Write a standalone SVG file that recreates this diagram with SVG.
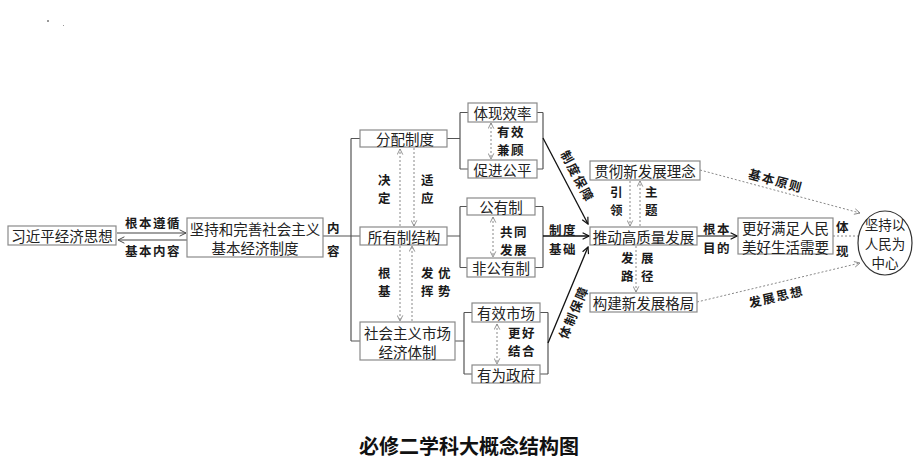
<svg xmlns="http://www.w3.org/2000/svg" width="920" height="473" viewBox="0 0 920 473">
<style>
.box{fill:#fff;stroke:#8a8a8a;stroke-width:1.2}
.t{font-family:"Noto Sans CJK SC","Noto Sans",sans-serif;font-size:14.5px;fill:#222;text-anchor:middle;dominant-baseline:central}
.c{font-size:13.5px}
.l{font-family:"Noto Sans CJK SC","Noto Sans",sans-serif;font-size:12.5px;font-weight:bold;fill:#1a1a1a;text-anchor:middle;dominant-baseline:central;letter-spacing:1.5px}
.br{fill:none;stroke:#555;stroke-width:1.2}
.sol{fill:none;stroke:#111;stroke-width:1.3}
.dot{fill:none;stroke:#888;stroke-width:1;stroke-dasharray:2 2}
</style>
<defs>
<marker id="ah" viewBox="0 0 10 10" refX="9" refY="5" markerWidth="8" markerHeight="8" orient="auto-start-reverse" markerUnits="userSpaceOnUse">
<path d="M1,1 L9,5 L1,9" fill="none" stroke="#111" stroke-width="1.5"/>
</marker>
<marker id="ad" viewBox="0 0 10 10" refX="9" refY="5" markerWidth="7" markerHeight="7" orient="auto-start-reverse" markerUnits="userSpaceOnUse">
<path d="M1,1 L9,5 L1,9" fill="none" stroke="#888" stroke-width="1.3"/>
</marker>
<marker id="at" viewBox="0 0 10 10" refX="9" refY="5" markerWidth="8" markerHeight="8" orient="auto-start-reverse" markerUnits="userSpaceOnUse">
<path d="M1,1 L9,5 L1,9" fill="none" stroke="#444" stroke-width="1.2"/>
</marker>
</defs>
<rect width="920" height="473" fill="#fff"/>
<rect x="47" y="20" width="2" height="2" fill="#999"/>
<rect x="63" y="25" width="1" height="1" fill="#999"/>

<g id="connectors">
<line class="br" x1="117" y1="233" x2="186" y2="233" marker-end="url(#at)" style="stroke:#444"/>
<line class="br" x1="187" y1="240" x2="118" y2="240" marker-end="url(#at)" style="stroke:#444"/>
<path class="br" d="M323,236 H360 M351,138.5 V341 M351,138.5 H360 M351,341 H360"/>
<path class="br" d="M447,138.5 H460 M460,112.5 V169 M460,112.5 H468 M460,169 H468 M537,112.5 H543 M537,169 H543 M543,112.5 V169"/>
<path class="br" d="M447,236 H460 M460,206.5 V267.5 M460,206.5 H467 M460,267.5 H467 M535,206.5 H543 M535,267.5 H543 M543,206.5 V267.5"/>
<path class="br" d="M455,341 H464 M464,312.5 V374 M464,312.5 H472 M464,374 H472 M540,312.5 H548 M540,374 H548 M548,312.5 V374"/>
<line class="sol" x1="543" y1="138" x2="588" y2="224" marker-end="url(#ah)"/>
<line class="sol" x1="543" y1="236" x2="589" y2="236" marker-end="url(#ah)"/>
<line class="sol" x1="548" y1="343" x2="588" y2="247" marker-end="url(#ah)"/>
<line class="sol" x1="697" y1="236" x2="737" y2="236" marker-end="url(#ah)" style="stroke-width:1.1"/>
<line class="dot" x1="400" y1="226" x2="400" y2="149" marker-end="url(#ad)"/>
<line class="dot" x1="414" y1="148" x2="414" y2="226" marker-end="url(#ad)"/>
<line class="dot" x1="400" y1="246" x2="400" y2="321" marker-end="url(#ad)"/>
<line class="dot" x1="412" y1="321" x2="412" y2="246" marker-end="url(#ad)"/>
<line class="dot" x1="491" y1="123" x2="491" y2="159" marker-start="url(#ad)" marker-end="url(#ad)"/>
<line class="dot" x1="493" y1="217" x2="493" y2="257" marker-start="url(#ad)" marker-end="url(#ad)"/>
<line class="dot" x1="497" y1="324" x2="497" y2="364" marker-start="url(#ad)" marker-end="url(#ad)"/>
<line class="dot" x1="630" y1="181" x2="630" y2="226" marker-end="url(#ad)"/>
<line class="dot" x1="640" y1="226" x2="640" y2="181" marker-end="url(#ad)"/>
<line class="dot" x1="636" y1="246" x2="636" y2="292" marker-end="url(#ad)"/>
<line class="dot" x1="700" y1="170" x2="860" y2="213" marker-end="url(#ad)"/>
<line class="dot" x1="697" y1="302" x2="860" y2="263" marker-end="url(#ad)"/>
<line class="dot" x1="833" y1="236" x2="858" y2="236"/>
</g>

<g id="labels">
<text class="l" x="153" y="222">根本遵循</text>
<text class="l" x="153" y="250">基本内容</text>
<text class="l"><tspan x="334" y="227">内</tspan><tspan x="334" y="250">容</tspan></text>
<text class="l"><tspan x="385" y="179">决</tspan><tspan x="385" y="197">定</tspan></text>
<text class="l"><tspan x="428" y="179">适</tspan><tspan x="428" y="197">应</tspan></text>
<text class="l"><tspan x="385" y="272">根</tspan><tspan x="385" y="290">基</tspan></text>
<text class="l"><tspan x="428" y="272">发</tspan><tspan x="428" y="290">挥</tspan></text>
<text class="l"><tspan x="445" y="272">优</tspan><tspan x="445" y="290">势</tspan></text>
<text class="l"><tspan x="511" y="131">有效</tspan><tspan x="511" y="149">兼顾</tspan></text>
<text class="l"><tspan x="514" y="231">共同</tspan><tspan x="514" y="249">发展</tspan></text>
<text class="l"><tspan x="522" y="332">更好</tspan><tspan x="522" y="350">结合</tspan></text>
<text class="l"><tspan x="563" y="228.5">制度</tspan><tspan x="563" y="248">基础</tspan></text>
<text class="l" transform="translate(578,176) rotate(62)">制度保障</text>
<text class="l" transform="translate(573,312) rotate(-67)">体制保障</text>
<text class="l"><tspan x="617" y="191">引</tspan><tspan x="617" y="209">领</tspan></text>
<text class="l"><tspan x="652" y="191">主</tspan><tspan x="652" y="209">题</tspan></text>
<text class="l"><tspan x="628" y="257">发</tspan><tspan x="628" y="275">路</tspan></text>
<text class="l"><tspan x="648" y="257">展</tspan><tspan x="648" y="275">径</tspan></text>
<text class="l"><tspan x="717" y="227.5">根本</tspan><tspan x="717" y="247">目的</tspan></text>
<text class="l"><tspan x="843" y="226">体</tspan><tspan x="843" y="250">现</tspan></text>
<text class="l" transform="translate(776,180) rotate(15)">基本原则</text>
<text class="l" transform="translate(776,296) rotate(-13)">发展思想</text>
</g>

<g id="n1"><rect class="box" x="8" y="226" width="108" height="19"/><text class="t" x="62" y="235.5">习近平经济思想</text></g>
<g id="n2"><rect class="box" x="187" y="218" width="136" height="39"/><text class="t"><tspan x="255" y="228">坚持和完善社会主义</tspan><tspan x="255" y="247">基本经济制度</tspan></text></g>
<g id="n3"><rect class="box" x="360" y="130" width="87" height="17"/><text class="t" x="405" y="138.5">分配制度</text></g>
<g id="n4"><rect class="box" x="360" y="227" width="87" height="18"/><text class="t" x="404" y="236">所有制结构</text></g>
<g id="n5"><rect class="box" x="360" y="322" width="95" height="38"/><text class="t"><tspan x="407.5" y="332">社会主义市场</tspan><tspan x="407.5" y="351">经济体制</tspan></text></g>
<g id="n6"><rect class="box" x="468" y="103" width="69" height="19"/><text class="t" x="502.5" y="112.5">体现效率</text></g>
<g id="n7"><rect class="box" x="468" y="160" width="69" height="18"/><text class="t" x="502.5" y="169">促进公平</text></g>
<g id="n8"><rect class="box" x="467" y="198" width="68" height="17"/><text class="t" x="501" y="206.5">公有制</text></g>
<g id="n9"><rect class="box" x="467" y="258" width="68" height="19"/><text class="t" x="501" y="267.5">非公有制</text></g>
<g id="n10"><rect class="box" x="472" y="303" width="68" height="19"/><text class="t" x="506" y="312.5">有效市场</text></g>
<g id="n11"><rect class="box" x="472" y="365" width="68" height="18"/><text class="t" x="506" y="374">有为政府</text></g>
<g id="n12"><rect class="box" x="590" y="161" width="110" height="19"/><text class="t" x="645" y="170.5">贯彻新发展理念</text></g>
<g id="n13"><rect class="box" x="590" y="227" width="107" height="18"/><text class="t" x="643.5" y="236">推动高质量发展</text></g>
<g id="n14"><rect class="box" x="590" y="293" width="107" height="19"/><text class="t" x="643.5" y="302.5">构建新发展格局</text></g>
<g id="n15"><rect class="box" x="738" y="218" width="95" height="36"/><text class="t"><tspan x="785.5" y="227">更好满足人民</tspan><tspan x="785.5" y="246">美好生活需要</tspan></text></g>
<g id="n16"><ellipse cx="885" cy="243" rx="27" ry="32" fill="#fff" stroke="#333" stroke-width="1.2"/><text class="t c"><tspan x="885" y="224">坚持以</tspan><tspan x="885" y="243">人民为</tspan><tspan x="885" y="262">中心</tspan></text></g>

<text x="469" y="445" font-family="'Noto Sans CJK SC',sans-serif" font-size="20" font-weight="bold" fill="#111" text-anchor="middle" dominant-baseline="central">必修二学科大概念结构图</text>
</svg>
